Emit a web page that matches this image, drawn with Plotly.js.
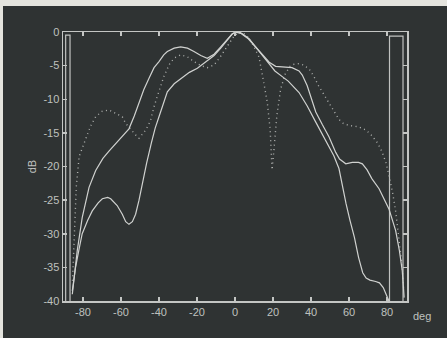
<!DOCTYPE html>
<html><head><meta charset="utf-8">
<script src="https://cdn.plot.ly/plotly-3.0.1.min.js"></script>
<style>
html,body{margin:0;padding:0;background:#e4e4de;width:447px;height:338px;overflow:hidden;}
#chart{position:absolute;left:3px;top:6px;width:444px;height:340px;background:#2f3333;}
</style></head>
<body><div id="chart"></div>
<script>
// Solid curve A (hump on the left, shoulder on the right)
const solidA_x = [-85.6,-84.7,-83,-80.4,-76.8,-73.3,-69.5,-66.3,-62.5,-59.3,-55.8,-53,-50.5,-48,-45.3,-42.6,-40,-37.5,-35.6,-32,-28.6,-25,-21.6,-18,-14.6,-11,-7.5,-4,-1.5,0,3,7,11,14.4,18,21.4,25,30,33.7,35.4,38,42.5,46,49.5,53,55,58.3,61.7,65,67,69.5,72,75.8,77.5,81,84.5,86.5,88,89];
const solidA_y = [-39,-36.5,-32.5,-27.6,-23.1,-20.6,-18.8,-17.7,-16.5,-15.4,-14.4,-12.5,-10.4,-8.6,-6.9,-5.3,-4.4,-3.4,-2.9,-2.4,-2.2,-2.4,-2.9,-3.5,-3.9,-3.3,-2.2,-1.1,-0.3,0,-0.2,-1.0,-2.3,-3.3,-4.5,-5.1,-5.2,-5.3,-5.8,-6.4,-8,-11.9,-13.8,-15.6,-17.9,-18.9,-19.6,-19.4,-19.4,-19.6,-20.5,-21.8,-23.3,-24.3,-26.3,-29.5,-32.5,-35.5,-39.5];
// Solid curve B (dip on the left, steep fall on the right)
const solidB_x = [-85.6,-83.9,-82,-80.4,-77.5,-75.1,-72,-69.8,-67,-65.4,-62,-59.3,-57.5,-55.8,-54,-52.3,-50.5,-48.8,-46.5,-44,-42,-40,-37.5,-35.6,-32,-28,-24,-19.8,-14.6,-11,-7.5,-4,-1.5,1.5,3.5,7.4,12,17.9,21,24.7,28,33.7,38,42.5,46,49.5,52,54.7,56.5,58.4,60.5,62.8,65,67.2,69,71,74,76,78,80.3,81];
const solidB_y = [-38.5,-35,-32.2,-30,-28,-26.6,-25.4,-24.8,-24.6,-24.8,-25.8,-27.1,-28.2,-28.6,-28.2,-27.1,-25,-22.6,-19.5,-16.5,-14.3,-12.6,-10.3,-8.9,-7.7,-6.8,-6.0,-5.4,-4.3,-3.5,-2.4,-1.2,-0.3,0,-0.2,-1.0,-2.6,-4.8,-5.8,-6.6,-7.3,-9,-11,-13.4,-15.2,-16.9,-18.4,-20.3,-23,-25.5,-28,-30.5,-33.5,-35.8,-36.6,-36.9,-37.1,-37.3,-38,-39.5,-40];
// Dotted curve C
const dotC_x = [-85.5,-84.5,-83.5,-82,-79.5,-76,-73.3,-70,-66.3,-62,-59.3,-57.5,-55,-52,-50.5,-48.8,-47,-44.5,-42.5,-40,-37.4,-34.5,-32.1,-28.6,-25,-21.6,-18,-14.6,-11,-8,-5.8,-3,-0.5,2,3.5,5,7.4,10,12.6,15,17,18.5,19.5,20.5,22,24,26.5,29,31,33.7,36,39,41.5,44,46.5,49.5,52,54.7,57,60,65,69,72,75,77.5,79.5,81,83,84.6,86.5,88,88.7];
const dotC_y = [-37,-30,-23,-18.5,-16.6,-14,-12.6,-11.8,-11.6,-12.2,-12.6,-13.6,-14.5,-15.4,-15.8,-15.2,-14.6,-13.2,-11,-8.8,-6.6,-4.8,-3.9,-3.4,-3.7,-4.4,-5.0,-5.3,-4.9,-3.8,-2.9,-1.6,-0.6,-0.1,0,-0.3,-0.9,-2.2,-3.7,-7.3,-10.5,-14.5,-20.5,-17.5,-12.5,-8.5,-6.2,-5.1,-4.8,-4.7,-4.9,-5.5,-6.6,-8.0,-9.2,-10.6,-11.9,-13.0,-13.6,-13.9,-14.1,-14.6,-15.4,-16.5,-17.9,-19.5,-21.3,-24,-26.8,-31,-35,-38];
// Edge window frames
const leftBox_x = [-89.1,-89.1,-86.8,-86.8];
const leftBox_y = [-40,-0.45,-0.45,-40];
const rightBox_x = [81.3,81.3,88.4,88.4];
const rightBox_y = [-40,-0.6,-0.6,-40];
// Ticks
const xTicks = [-80,-60,-40,-20,0,20,40,60,80];
const xTickText = ['-80','-60','-40','-20','0','20','40','60','80'];
const yTicks = [0,-5,-10,-15,-20,-25,-30,-35,-40];
const yTickText = ['0','-5','-10','-15','-20','-25','-30','-35','-40'];

const lineCol = '#d0d2d0';
const traces = [
  {x:leftBox_x,y:leftBox_y,mode:'lines',line:{color:'#c0c2c0',width:1.2}},
  {x:rightBox_x,y:rightBox_y,mode:'lines',line:{color:'#c0c2c0',width:1.2}},
  {x:dotC_x,y:dotC_y,mode:'lines',line:{color:'#aeb0ae',width:1.4,dash:'1px,3.5px'}},
  {x:solidA_x,y:solidA_y,mode:'lines',line:{color:lineCol,width:1.2}},
  {x:solidB_x,y:solidB_y,mode:'lines',line:{color:lineCol,width:1.2}}
];
const axisCommon = {
  showgrid:false, zeroline:false, showline:true, linecolor:'#c4c6c4', linewidth:1.5,
  mirror:'ticks', ticks:'inside', ticklen:4, tickcolor:'#c4c6c4', tickwidth:1.5,
  tickfont:{family:'Liberation Sans, Arial, sans-serif', size:11, color:'#bfc1bf'}
};
const layout = {
  width:444, height:332,
  margin:{l:60, r:40, t:26, b:37},
  paper_bgcolor:'#2f3333', plot_bgcolor:'#2f3333',
  showlegend:false,
  xaxis:Object.assign({}, axisCommon, {range:[-90.5,90.5], tickmode:'array', tickvals:xTicks, ticktext:xTickText}),
  yaxis:Object.assign({}, axisCommon, {range:[-40,0], tickmode:'array', tickvals:yTicks, ticktext:yTickText,
    title:{text:'dB', font:{family:'Liberation Sans, Arial, sans-serif', size:11, color:'#bfc1bf'}, standoff:4}}),
  annotations:[{text:'deg', xref:'paper', yref:'paper', x:1.044, y:-0.056, xanchor:'center', yanchor:'middle',
    showarrow:false, font:{family:'Liberation Sans, Arial, sans-serif', size:11, color:'#bfc1bf'}}]
};
Plotly.newPlot('chart', traces, layout, {displayModeBar:false, staticPlot:true});
</script></body></html>
